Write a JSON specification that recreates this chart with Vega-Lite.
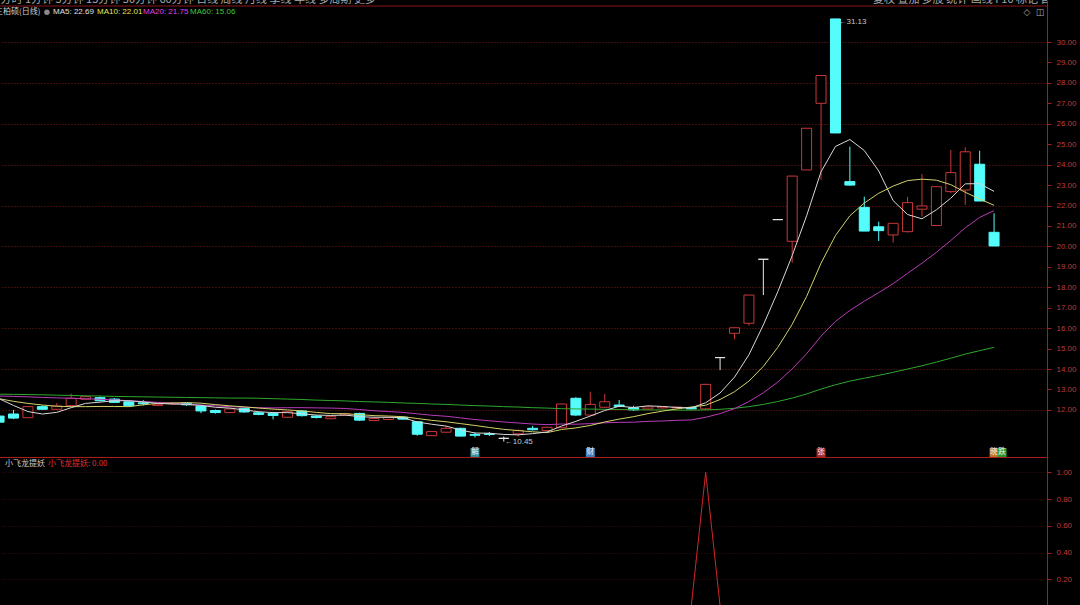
{
"$schema": "https://vega.github.io/schema/vega-lite/v6.json",
"width": 1047, "height": 605,
"autosize": {"type": "none"},
"padding": {"left": 0, "top": 0, "right": 33, "bottom": 0},
"background": "#000000",
"config": {"view": {"stroke": null}, "font": "Liberation Sans", "axis": {"labelOverlap": false, "labelSeparation": 0}, "scale": {"continuousPadding": 0}},
"data": {"values": [
{"i":-1,"o":11.70,"h":11.75,"l":11.35,"c":11.40,"m5":12.55,"m10":12.55,"m20":12.68,"m60":12.77,"s":0},
{"i":0,"o":11.80,"h":12.00,"l":11.55,"c":11.60,"m5":12.22,"m10":12.42,"m20":12.66,"m60":12.76,"s":0},
{"i":1,"o":11.62,"h":12.20,"l":11.60,"c":12.16,"m5":11.92,"m10":12.32,"m20":12.64,"m60":12.75,"s":0},
{"i":2,"o":12.16,"h":12.22,"l":12.00,"c":12.03,"m5":11.80,"m10":12.24,"m20":12.61,"m60":12.74,"s":0},
{"i":3,"o":12.03,"h":12.34,"l":12.00,"c":12.19,"m5":11.88,"m10":12.18,"m20":12.59,"m60":12.72,"s":0},
{"i":4,"o":12.21,"h":12.80,"l":12.18,"c":12.57,"m5":12.11,"m10":12.16,"m20":12.57,"m60":12.71,"s":0},
{"i":5,"o":12.52,"h":12.70,"l":12.48,"c":12.65,"m5":12.32,"m10":12.16,"m20":12.55,"m60":12.69,"s":0},
{"i":6,"o":12.60,"h":12.66,"l":12.42,"c":12.45,"m5":12.38,"m10":12.17,"m20":12.52,"m60":12.68,"s":0},
{"i":7,"o":12.53,"h":12.58,"l":12.34,"c":12.37,"m5":12.45,"m10":12.17,"m20":12.49,"m60":12.66,"s":0},
{"i":8,"o":12.40,"h":12.45,"l":12.16,"c":12.20,"m5":12.45,"m10":12.16,"m20":12.45,"m60":12.65,"s":0},
{"i":9,"o":12.35,"h":12.48,"l":12.22,"c":12.30,"m5":12.39,"m10":12.25,"m20":12.41,"m60":12.64,"s":0},
{"i":10,"o":12.22,"h":12.33,"l":12.18,"c":12.28,"m5":12.32,"m10":12.32,"m20":12.37,"m60":12.63,"s":0},
{"i":11,"o":12.30,"h":12.38,"l":12.24,"c":12.32,"m5":12.29,"m10":12.34,"m20":12.33,"m60":12.62,"s":0},
{"i":12,"o":12.32,"h":12.36,"l":12.20,"c":12.25,"m5":12.27,"m10":12.36,"m20":12.28,"m60":12.61,"s":0},
{"i":13,"o":12.19,"h":12.22,"l":11.84,"c":11.95,"m5":12.22,"m10":12.33,"m20":12.24,"m60":12.60,"s":0},
{"i":14,"o":11.97,"h":12.02,"l":11.82,"c":11.87,"m5":12.13,"m10":12.26,"m20":12.20,"m60":12.59,"s":0},
{"i":15,"o":11.87,"h":12.10,"l":11.85,"c":12.05,"m5":12.09,"m10":12.20,"m20":12.16,"m60":12.58,"s":0},
{"i":16,"o":12.08,"h":12.12,"l":11.86,"c":11.90,"m5":12.00,"m10":12.15,"m20":12.13,"m60":12.58,"s":0},
{"i":17,"o":11.86,"h":11.92,"l":11.74,"c":11.78,"m5":11.91,"m10":12.09,"m20":12.11,"m60":12.57,"s":0},
{"i":18,"o":11.83,"h":11.88,"l":11.54,"c":11.73,"m5":11.87,"m10":12.04,"m20":12.10,"m60":12.55,"s":0},
{"i":19,"o":11.64,"h":11.95,"l":11.62,"c":11.91,"m5":11.87,"m10":12.00,"m20":12.11,"m60":12.53,"s":0},
{"i":20,"o":11.95,"h":11.98,"l":11.68,"c":11.72,"m5":11.81,"m10":11.95,"m20":12.11,"m60":12.51,"s":0},
{"i":21,"o":11.70,"h":11.74,"l":11.58,"c":11.63,"m5":11.75,"m10":11.88,"m20":12.10,"m60":12.48,"s":0},
{"i":22,"o":11.57,"h":11.70,"l":11.55,"c":11.67,"m5":11.73,"m10":11.82,"m20":12.09,"m60":12.46,"s":0},
{"i":23,"o":11.73,"h":11.86,"l":11.70,"c":11.82,"m5":11.75,"m10":11.81,"m20":12.07,"m60":12.44,"s":0},
{"i":24,"o":11.83,"h":11.86,"l":11.46,"c":11.50,"m5":11.67,"m10":11.77,"m20":12.02,"m60":12.41,"s":0},
{"i":25,"o":11.48,"h":11.60,"l":11.46,"c":11.58,"m5":11.64,"m10":11.72,"m20":11.96,"m60":12.39,"s":0},
{"i":26,"o":11.53,"h":11.66,"l":11.50,"c":11.63,"m5":11.64,"m10":11.70,"m20":11.92,"m60":12.37,"s":0},
{"i":27,"o":11.64,"h":11.68,"l":11.52,"c":11.55,"m5":11.62,"m10":11.67,"m20":11.88,"m60":12.34,"s":0},
{"i":28,"o":11.42,"h":11.45,"l":10.74,"c":10.81,"m5":11.41,"m10":11.58,"m20":11.81,"m60":12.32,"s":0},
{"i":29,"o":10.74,"h":10.96,"l":10.72,"c":10.94,"m5":11.30,"m10":11.49,"m20":11.74,"m60":12.29,"s":0},
{"i":30,"o":10.91,"h":11.21,"l":10.88,"c":11.10,"m5":11.21,"m10":11.42,"m20":11.69,"m60":12.27,"s":0},
{"i":31,"o":11.10,"h":11.13,"l":10.70,"c":10.72,"m5":11.02,"m10":11.33,"m20":11.61,"m60":12.24,"s":0},
{"i":32,"o":10.80,"h":10.90,"l":10.65,"c":10.76,"m5":10.87,"m10":11.24,"m20":11.53,"m60":12.21,"s":0},
{"i":33,"o":10.84,"h":10.92,"l":10.72,"c":10.80,"m5":10.86,"m10":11.14,"m20":11.47,"m60":12.19,"s":0},
{"i":34,"o":10.61,"h":10.70,"l":10.45,"c":10.61,"m5":10.80,"m10":11.05,"m20":11.41,"m60":12.16,"s":0},
{"i":35,"o":10.83,"h":11.05,"l":10.70,"c":10.99,"m5":10.78,"m10":10.99,"m20":11.36,"m60":12.14,"s":0},
{"i":36,"o":11.10,"h":11.22,"l":11.00,"c":11.03,"m5":10.84,"m10":10.93,"m20":11.31,"m60":12.11,"s":0},
{"i":37,"o":10.99,"h":11.18,"l":10.96,"c":11.15,"m5":10.92,"m10":10.89,"m20":11.28,"m60":12.09,"s":0},
{"i":38,"o":11.13,"h":12.30,"l":11.10,"c":12.29,"m5":11.21,"m10":11.04,"m20":11.31,"m60":12.06,"s":0},
{"i":39,"o":12.57,"h":12.62,"l":11.70,"c":11.75,"m5":11.44,"m10":11.12,"m20":11.30,"m60":12.05,"s":0},
{"i":40,"o":11.75,"h":12.89,"l":11.72,"c":12.27,"m5":11.70,"m10":11.24,"m20":11.33,"m60":12.04,"s":0},
{"i":41,"o":12.13,"h":12.78,"l":12.10,"c":12.40,"m5":11.97,"m10":11.41,"m20":11.37,"m60":12.03,"s":0},
{"i":42,"o":12.24,"h":12.49,"l":12.14,"c":12.17,"m5":12.18,"m10":11.55,"m20":11.39,"m60":12.02,"s":0},
{"i":43,"o":12.11,"h":12.20,"l":11.95,"c":12.00,"m5":12.12,"m10":11.67,"m20":11.40,"m60":12.01,"s":0},
{"i":44,"o":12.05,"h":12.18,"l":12.02,"c":12.15,"m5":12.20,"m10":11.82,"m20":11.44,"m60":12.00,"s":0},
{"i":45,"o":12.10,"h":12.18,"l":12.06,"c":12.15,"m5":12.17,"m10":11.94,"m20":11.46,"m60":12.00,"s":0},
{"i":46,"o":12.10,"h":12.17,"l":12.07,"c":12.14,"m5":12.12,"m10":12.05,"m20":11.49,"m60":11.99,"s":0},
{"i":47,"o":12.12,"h":12.15,"l":12.02,"c":12.05,"m5":12.10,"m10":12.14,"m20":11.51,"m60":11.99,"s":0},
{"i":48,"o":12.05,"h":13.28,"l":12.00,"c":13.25,"m5":12.35,"m10":12.23,"m20":11.64,"m60":12.00,"s":1},
{"i":49,"o":14.56,"h":14.56,"l":13.95,"c":14.56,"m5":12.83,"m10":12.51,"m20":11.82,"m60":12.03,"s":0},
{"i":50,"o":15.75,"h":16.02,"l":15.45,"c":16.02,"m5":13.60,"m10":12.89,"m20":12.06,"m60":12.08,"s":0},
{"i":51,"o":16.24,"h":17.62,"l":16.12,"c":17.62,"m5":14.70,"m10":13.41,"m20":12.41,"m60":12.16,"s":0},
{"i":52,"o":19.37,"h":19.37,"l":17.62,"c":19.37,"m5":16.16,"m10":14.13,"m20":12.84,"m60":12.27,"s":0},
{"i":53,"o":21.31,"h":21.31,"l":21.31,"c":21.31,"m5":17.78,"m10":15.06,"m20":13.36,"m60":12.41,"s":0},
{"i":54,"o":20.25,"h":23.44,"l":19.20,"c":23.44,"m5":19.55,"m10":16.19,"m20":14.01,"m60":12.58,"s":0},
{"i":55,"o":23.74,"h":25.78,"l":23.74,"c":25.78,"m5":21.50,"m10":17.55,"m20":14.75,"m60":12.78,"s":0},
{"i":56,"o":27.00,"h":28.36,"l":23.25,"c":28.36,"m5":23.65,"m10":19.18,"m20":15.61,"m60":13.02,"s":0},
{"i":57,"o":31.13,"h":31.13,"l":25.55,"c":25.55,"m5":24.89,"m10":20.53,"m20":16.33,"m60":13.23,"s":0},
{"i":58,"o":23.17,"h":24.88,"l":22.97,"c":23.00,"m5":25.23,"m10":21.50,"m20":16.87,"m60":13.41,"s":0},
{"i":59,"o":21.91,"h":22.43,"l":20.75,"c":20.75,"m5":24.69,"m10":22.12,"m20":17.32,"m60":13.55,"s":0},
{"i":60,"o":20.96,"h":21.21,"l":20.26,"c":20.77,"m5":23.69,"m10":22.60,"m20":17.74,"m60":13.69,"s":0},
{"i":61,"o":20.56,"h":21.13,"l":20.18,"c":21.13,"m5":22.24,"m10":22.95,"m20":18.18,"m60":13.84,"s":0},
{"i":62,"o":20.72,"h":22.43,"l":20.68,"c":22.14,"m5":21.56,"m10":23.22,"m20":18.68,"m60":14.00,"s":0},
{"i":63,"o":21.82,"h":23.54,"l":21.45,"c":21.98,"m5":21.35,"m10":23.29,"m20":19.18,"m60":14.16,"s":0},
{"i":64,"o":21.02,"h":22.92,"l":21.00,"c":22.92,"m5":21.79,"m10":23.24,"m20":19.71,"m60":14.34,"s":0},
{"i":65,"o":22.68,"h":24.72,"l":22.60,"c":23.61,"m5":22.36,"m10":23.02,"m20":20.29,"m60":14.53,"s":0},
{"i":66,"o":22.76,"h":24.85,"l":22.03,"c":24.63,"m5":23.06,"m10":22.65,"m20":20.91,"m60":14.73,"s":0},
{"i":67,"o":24.02,"h":24.68,"l":22.22,"c":22.22,"m5":23.07,"m10":22.32,"m20":21.42,"m60":14.90,"s":0},
{"i":68,"o":20.69,"h":21.62,"l":20.02,"c":20.02,"m5":22.69,"m10":22.01,"m20":21.75,"m60":15.06,"s":0}
]},
"layer": [
{"layer": [
 {"mark": {"type": "rule", "strokeWidth": 1, "clip": true},
  "encoding": {
   "x": {"field": "i", "type": "quantitative", "scale": {"domain": [-0.936, 71.67], "nice": false, "zero": false, "padding": 0}, "axis": null},
   "y": {"field": "l", "type": "quantitative", "scale": {"domain": [2.456, 32.055], "nice": false, "zero": false},
     "axis": {"orient": "right", "values": [12,13,14,15,16,17,18,19,20,21,22,23,24,25,26,27,28,29,30], "tickCount": 100, "format": ".2f", "title": null,
       "grid": true, "gridDash": [1, 2], "gridWidth": 1, "gridOpacity": 0.9,
       "gridColor": {"condition": {"test": "datum.value % 2 === 0", "value": "#8c1c1c"}, "value": "#000000"},
       "domain": true, "domainColor": "#a81c1c", "domainWidth": 1,
       "ticks": true, "tickColor": "#a81c1c", "tickSize": 4,
       "labelColor": "#b83c3c", "labelFont": "Liberation Sans", "labelFontSize": 8, "labelPadding": 5,
       "labelOverlap": false, "labelSeparation": 0, "labelBound": false, "minExtent": 33, "maxExtent": 33}},
   "y2": {"field": "h"},
   "stroke": {"condition": [{"test": "datum.c > datum.o", "value": "#c83838"}, {"test": "datum.c < datum.o", "value": "#54fcfc"}], "value": "#e8e8e8"}
  }},
 {"mark": {"type": "bar", "size": 10, "strokeWidth": 1, "clip": true},
  "encoding": {
   "x": {"field": "i", "type": "quantitative"},
   "y": {"field": "o", "type": "quantitative"},
   "y2": {"field": "c"},
   "fill": {"condition": [{"test": "datum.c > datum.o", "value": "#000000"}, {"test": "datum.c < datum.o", "value": "#54fcfc"}], "value": "#e8e8e8"},
   "stroke": {"condition": [{"test": "datum.c > datum.o", "value": "#c83838"}, {"test": "datum.c < datum.o", "value": "#54fcfc"}], "value": "#e8e8e8"}
  }},
 {"mark": {"type": "line", "strokeWidth": 1, "color": "#2ea82e", "clip": true},
  "encoding": {"x": {"field": "i", "type": "quantitative"}, "y": {"field": "m60", "type": "quantitative"}}},
 {"mark": {"type": "line", "strokeWidth": 1, "color": "#b83cb8", "clip": true},
  "encoding": {"x": {"field": "i", "type": "quantitative"}, "y": {"field": "m20", "type": "quantitative"}}},
 {"mark": {"type": "line", "strokeWidth": 1, "color": "#d2d26a", "clip": true},
  "encoding": {"x": {"field": "i", "type": "quantitative"}, "y": {"field": "m10", "type": "quantitative"}}},
 {"mark": {"type": "line", "strokeWidth": 1, "color": "#d8d8d8", "clip": true},
  "encoding": {"x": {"field": "i", "type": "quantitative"}, "y": {"field": "m5", "type": "quantitative"}}},
 {"data": {"values": [{}]},
  "mark": {"type": "rule", "strokeWidth": 1, "color": "#a81c1c"},
  "encoding": {"y": {"datum": 9.672, "type": "quantitative"}}},
 {"data": {"values": [{}]},
  "mark": {"type": "rule", "strokeWidth": 1, "color": "#8c1414"},
  "encoding": {"y": {"datum": 31.761, "type": "quantitative"}}},
 {"data": {"values": [{}]},
  "mark": {"type": "text", "text": "分时    1分钟    5分钟    15分钟    30分钟    60分钟    日线    周线    月线    季线    年线    多周期    更多", "align": "left", "baseline": "middle", "font": "Noto Sans CJK SC", "fontSize": 11, "color": "#a8a8a8", "clip": true},
  "encoding": {"x": {"datum": -0.9, "type": "quantitative"}, "y": {"datum": 32.055, "type": "quantitative"}}},
 {"data": {"values": [{}]},
  "mark": {"type": "text", "text": "复权   叠加   多股   统计   画线   F10   标记   自选", "align": "left", "baseline": "middle", "font": "Noto Sans CJK SC", "fontSize": 11, "color": "#a8a8a8", "clip": true},
  "encoding": {"x": {"datum": 59.6, "type": "quantitative"}, "y": {"datum": 32.055, "type": "quantitative"}}},
 {"data": {"values": [{}]},
  "mark": {"type": "text", "text": "三柏硕(日线)", "align": "left", "baseline": "middle", "font": "Noto Sans CJK SC", "fontSize": 8, "color": "#d0d0d0", "clip": true},
  "encoding": {"x": {"datum": -1.283, "type": "quantitative"}, "y": {"datum": 31.458, "type": "quantitative"}}},
 {"data": {"values": [{}]},
  "mark": {"type": "point", "shape": "circle", "filled": true, "size": 30, "color": "#8a8a8a", "opacity": 1, "clip": true},
  "encoding": {"x": {"datum": 2.32, "type": "quantitative"}, "y": {"datum": 31.458, "type": "quantitative"}}},
 {"data": {"values": [{}]},
  "mark": {"type": "text", "text": "MA5: 22.69", "align": "left", "baseline": "middle", "fontSize": 8, "color": "#e0e0e0", "clip": true},
  "encoding": {"x": {"datum": 2.74, "type": "quantitative"}, "y": {"datum": 31.458, "type": "quantitative"}}},
 {"data": {"values": [{}]},
  "mark": {"type": "text", "text": "MA10: 22.01", "align": "left", "baseline": "middle", "fontSize": 8, "color": "#e6e65a", "clip": true},
  "encoding": {"x": {"datum": 5.79, "type": "quantitative"}, "y": {"datum": 31.458, "type": "quantitative"}}},
 {"data": {"values": [{}]},
  "mark": {"type": "text", "text": "MA20: 21.75", "align": "left", "baseline": "middle", "fontSize": 8, "color": "#e040e0", "clip": true},
  "encoding": {"x": {"datum": 8.98, "type": "quantitative"}, "y": {"datum": 31.458, "type": "quantitative"}}},
 {"data": {"values": [{}]},
  "mark": {"type": "text", "text": "MA60: 15.06", "align": "left", "baseline": "middle", "fontSize": 8, "color": "#3cc83c", "clip": true},
  "encoding": {"x": {"datum": 12.24, "type": "quantitative"}, "y": {"datum": 31.458, "type": "quantitative"}}},
 {"data": {"values": [{}]},
  "mark": {"type": "text", "text": "◇", "align": "center", "baseline": "middle", "font": "DejaVu Sans", "fontSize": 9, "color": "#a8a8a8", "clip": true},
  "encoding": {"x": {"datum": 70.28, "type": "quantitative"}, "y": {"datum": 31.458, "type": "quantitative"}}},
 {"data": {"values": [{}]},
  "mark": {"type": "text", "text": "◫", "align": "center", "baseline": "middle", "font": "DejaVu Sans", "fontSize": 9, "color": "#a8a8a8", "clip": true},
  "encoding": {"x": {"datum": 71.19, "type": "quantitative"}, "y": {"datum": 31.458, "type": "quantitative"}}},
 {"data": {"values": [{}]},
  "mark": {"type": "text", "text": "←31.13", "align": "left", "baseline": "middle", "dx": 3, "dy": 3, "fontSize": 8, "color": "#c8c8c8", "clip": true},
  "encoding": {"x": {"datum": 57, "type": "quantitative"}, "y": {"datum": 31.13, "type": "quantitative"}}},
 {"data": {"values": [{}]},
  "mark": {"type": "text", "text": "←10.45", "align": "left", "baseline": "middle", "dx": 1, "dy": 0, "fontSize": 8, "color": "#c8c8c8", "clip": true},
  "encoding": {"x": {"datum": 34, "type": "quantitative"}, "y": {"datum": 10.45, "type": "quantitative"}}},
 {"data": {"values": [{"i": 32, "t": "解"}, {"i": 40, "t": "财"}, {"i": 56, "t": "张"}, {"i": 68, "t": "晓"}]},
  "layer": [
   {"mark": {"type": "point", "shape": "square", "filled": true, "size": 80, "opacity": 1, "clip": true},
    "encoding": {"x": {"field": "i", "type": "quantitative"}, "y": {"datum": 9.917, "type": "quantitative"},
      "fill": {"field": "t", "type": "nominal", "scale": {"domain": ["解", "财", "张", "晓"], "range": ["#2f8f9f", "#3f7fbf", "#a82c2c", "#c07a22"]}, "legend": null}}},
   {"mark": {"type": "text", "align": "center", "baseline": "middle", "font": "Noto Sans CJK SC", "fontSize": 7.5, "color": "#f0f0f0", "clip": true},
    "encoding": {"x": {"field": "i", "type": "quantitative"}, "y": {"datum": 9.917, "type": "quantitative"}, "text": {"field": "t"}}}
  ]},
 {"data": {"values": [{}]},
  "mark": {"type": "point", "shape": "square", "filled": true, "size": 80, "opacity": 1, "color": "#2c9a2c", "xOffset": 8, "clip": true},
  "encoding": {"x": {"datum": 68, "type": "quantitative"}, "y": {"datum": 9.917, "type": "quantitative"}}},
 {"data": {"values": [{}]},
  "mark": {"type": "text", "text": "跌", "align": "center", "baseline": "middle", "dx": 8, "font": "Noto Sans CJK SC", "fontSize": 7.5, "color": "#f0f0f0", "clip": true},
  "encoding": {"x": {"datum": 68, "type": "quantitative"}, "y": {"datum": 9.917, "type": "quantitative"}}},
 {"data": {"values": [{}]},
  "mark": {"type": "text", "text": "小飞龙提妖", "align": "left", "baseline": "middle", "font": "Noto Sans CJK SC", "fontSize": 8, "color": "#c8c8c8", "clip": true},
  "encoding": {"x": {"datum": -0.59, "type": "quantitative"}, "y": {"datum": 9.33, "type": "quantitative"}}},
 {"data": {"values": [{}]},
  "mark": {"type": "text", "text": "小飞龙提妖: 0.00", "align": "left", "baseline": "middle", "font": "Noto Sans CJK SC", "fontSize": 8, "color": "#e03030", "clip": true},
  "encoding": {"x": {"datum": 2.39, "type": "quantitative"}, "y": {"datum": 9.33, "type": "quantitative"}}}
]},
{"layer": [
 {"mark": {"type": "line", "strokeWidth": 1, "color": "#d02828", "clip": true},
  "encoding": {
   "x": {"field": "i", "type": "quantitative"},
   "y": {"field": "s", "type": "quantitative", "scale": {"domain": [0.008, 4.53], "nice": false, "zero": false},
     "axis": {"orient": "right", "values": [0.2, 0.4, 0.6, 0.8, 1.0], "tickCount": 100, "format": ".2f", "title": null,
       "grid": true, "gridColor": "#8c1c1c", "gridDash": [1, 2], "gridWidth": 1, "gridOpacity": 0.45,
       "domain": false, "ticks": true, "tickColor": "#a81c1c", "tickSize": 4,
       "labelColor": "#b83c3c", "labelFont": "Liberation Sans", "labelFontSize": 8, "labelPadding": 5,
       "labelOverlap": false, "minExtent": 33, "maxExtent": 33}}
  }}
]}
],
"resolve": {"scale": {"y": "independent"}, "axis": {"y": "independent"}}
}
